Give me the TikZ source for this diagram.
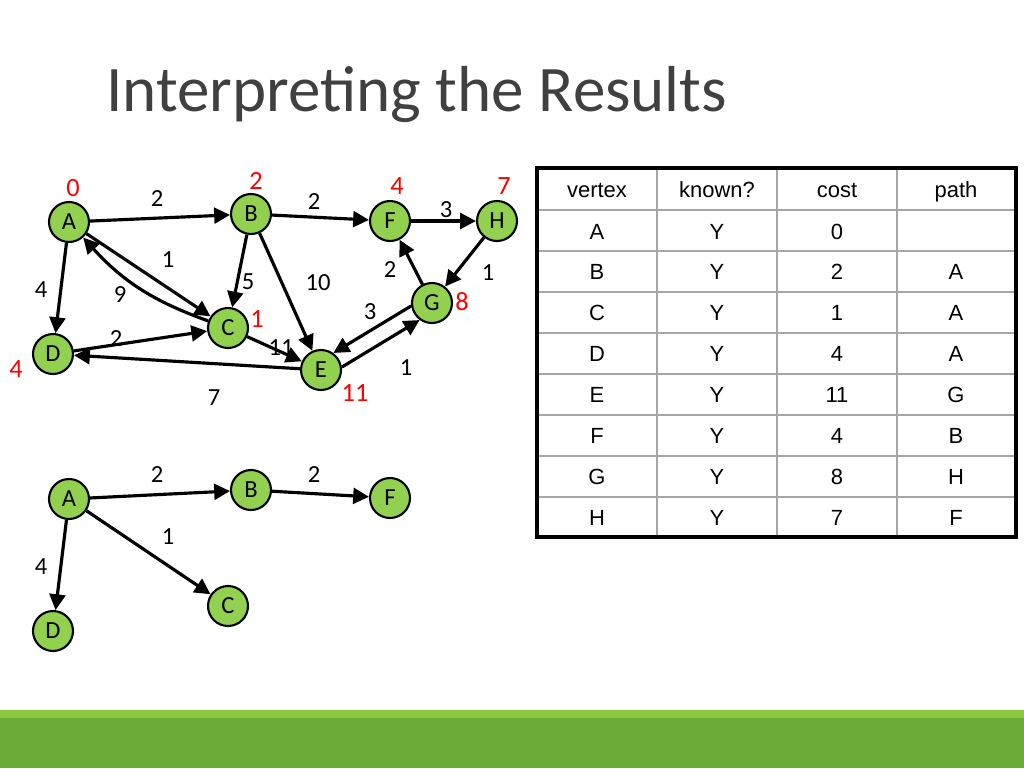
\documentclass[tikz,border=0pt]{standalone}
\usepackage{fontspec}
\setmainfont{Carlito}
\newfontfamily\arialf{Liberation Sans}
\usetikzlibrary{arrows.meta}
\definecolor{nodegreen}{RGB}{146,208,80}
\definecolor{barlight}{RGB}{141,198,63}
\definecolor{bardark}{RGB}{106,172,56}
\definecolor{titlegray}{RGB}{64,64,64}
\begin{document}
\begin{tikzpicture}[x=0.02cm,y=-0.02cm,
  vtx/.style={circle,draw=black,line width=1.2pt,fill=nodegreen,minimum size=0.8cm,inner sep=0pt,font=\fontsize{14}{14}\selectfont},
  edge/.style={-{Triangle[length=9pt,width=9pt]},line width=1.8pt},
  wt/.style={font=\fontsize{14}{14}\selectfont},
  cst/.style={font=\fontsize{15}{15}\selectfont,text=red},
  cell/.style={font=\arialf\fontsize{12.5}{12.5}\selectfont,anchor=base}]
\useasboundingbox (0,0) rectangle (1024,768);
\fill[white] (0,0) rectangle (1024,768);
\fill[barlight] (0,710) rectangle (1024,718);
\fill[bardark] (0,718) rectangle (1024,768);
\node[anchor=west,text=titlegray,font=\fontsize{37}{37}\selectfont] (title) at (100,95) {Interpreting the Results};
% graph 1
\node[vtx] (A) at (69,222) {A};
\node[vtx] (B) at (251,214) {B};
\node[vtx] (F) at (390,221) {F};
\node[vtx] (H) at (497,221) {H};
\node[vtx] (G) at (432,303) {G};
\node[vtx] (C) at (228,328) {C};
\node[vtx] (D) at (53,354) {D};
\node[vtx] (E) at (321,370) {E};
\draw[edge] (A) -- (B);
\draw[edge] (A) -- (C);
\draw[edge] (C) to[bend left=14] (A);
\draw[edge] (A) -- (D);
\draw[edge] (B) -- (C);
\draw[edge] (B) -- (E);
\draw[edge] (B) -- (F);
\draw[edge] (F) -- (H);
\draw[edge] (H) -- (G);
\draw[edge] (G) -- (F);
\draw[edge] (G.188) -- (E.54);
\draw[edge] (E.8) -- (G.234);
\draw[edge] (D) -- (C);
\draw[edge] (C) -- (E);
\draw[edge] (E) -- (D);
\node[wt] (w1) at (157,199) {2};
\node[wt] (w2) at (314,202) {2};
\node[wt] (w3) at (446,210) {3};
\node[wt] (w4) at (168,260) {1};
\node[wt] (w5) at (41,290) {4};
\node[wt] (w6) at (120,295) {9};
\node[wt] (w7) at (248,282) {5};
\node[wt] (w8) at (318,283) {10};
\node[wt] (w9) at (390,270) {2};
\node[wt] (w10) at (488,273) {1};
\node[wt] (w11) at (370,312) {3};
\node[wt] (w12) at (116,339) {2};
\node[wt] (w13) at (281,348) {11};
\node[wt] (w14) at (406,368) {1};
\node[wt] (w15) at (214,398) {7};
\node[cst] (cA) at (73,188) {0};
\node[cst] (cB) at (256,181) {2};
\node[cst] (cF) at (397,186) {4};
\node[cst] (cH) at (504,186) {7};
\node[cst] (cG) at (462,302) {8};
\node[cst] (cC) at (257,319) {1};
\node[cst] (cD) at (16,369) {4};
\node[cst] (cE) at (355,393) {11};
% graph 2
\node[vtx] (A2) at (69,499) {A};
\node[vtx] (B2) at (251,490) {B};
\node[vtx] (F2) at (390,498) {F};
\node[vtx] (C2) at (228,606) {C};
\node[vtx] (D2) at (53,631) {D};
\draw[edge] (A2) -- (B2);
\draw[edge] (B2) -- (F2);
\draw[edge] (A2) -- (C2);
\draw[edge] (A2) -- (D2);
\node[wt] (v1) at (157,475) {2};
\node[wt] (v2) at (314,475) {2};
\node[wt] (v3) at (168,537) {1};
\node[wt] (v4) at (41,567) {4};
% table
\foreach \yy in {210,251,292,333,374,415,456,497} \draw[gray!70,line width=0.8pt] (537,\yy) -- (1016,\yy);
\foreach \xx in {657,777,897} \draw[gray!70,line width=0.8pt] (\xx,168) -- (\xx,537);
\draw[line width=2pt] (537,168) rectangle (1016,537);
\foreach \a/\b/\c/\d [count=\i] in {vertex/known?/cost/path,A/Y/0/,B/Y/2/A,C/Y/1/A,D/Y/4/A,E/Y/11/G,F/Y/4/B,G/Y/8/H,H/Y/7/F}{
  \pgfmathsetmacro{\ry}{\i==1 ? 197 : 239+(\i-2)*40.9}
  \node[cell] at (597,\ry) {\a};
  \node[cell] at (717,\ry) {\b};
  \node[cell] at (837,\ry) {\c};
  \node[cell] at (956,\ry) {\d};
}
\end{tikzpicture}
\end{document}
